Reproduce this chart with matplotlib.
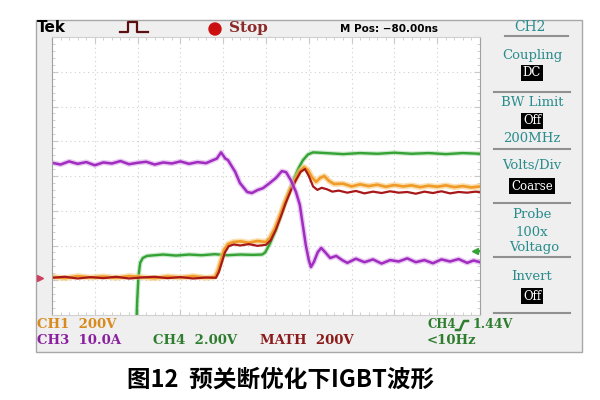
import matplotlib.pyplot as plt
from matplotlib.patches import Rectangle, Circle

plt.rcParams['font.family'] = ['DejaVu Sans']

# --- trace data (x in horizontal divisions 0..10, y in vertical divisions 0..8) ---
ch3_t = [0, 0.2, 0.4, 0.6, 0.8, 1.0, 1.2, 1.4, 1.6, 1.8, 2.0, 2.2, 2.4, 2.6, 2.8, 3.0,
         3.2, 3.4, 3.6, 3.75, 3.85, 3.95, 4.05, 4.11, 4.28, 4.39, 4.56, 4.67, 4.81, 4.93,
         5.09, 5.23, 5.37, 5.47, 5.58, 5.70, 5.79, 5.86, 5.93, 6.00, 6.05, 6.12, 6.21,
         6.29, 6.38, 6.50, 6.64, 6.78, 6.9, 7.1, 7.3, 7.5, 7.7, 7.9, 8.1, 8.3, 8.5, 8.7,
         8.9, 9.1, 9.3, 9.5, 9.7, 9.85, 10.0]
ch3_v = [4.38, 4.33, 4.42, 4.35, 4.40, 4.31, 4.39, 4.36, 4.43, 4.34, 4.38, 4.41, 4.33, 4.39,
         4.36, 4.42, 4.35, 4.40, 4.37, 4.45, 4.50, 4.68, 4.50, 4.46, 4.12, 3.80, 3.54, 3.51,
         3.60, 3.65, 3.80, 3.94, 4.14, 4.11, 3.88, 3.54, 3.17, 2.59, 2.01, 1.58, 1.38, 1.53,
         1.81, 1.93, 1.81, 1.64, 1.70, 1.58, 1.50, 1.62, 1.52, 1.60, 1.48, 1.58, 1.54, 1.63,
         1.52, 1.58, 1.49, 1.60, 1.54, 1.61, 1.50, 1.57, 1.52]

ch1_t = [0, 0.3, 0.6, 0.9, 1.2, 1.5, 1.8, 2.1, 2.4, 2.7, 3.0, 3.3, 3.6, 3.81, 3.88, 3.95,
         4.02, 4.11, 4.23, 4.4, 4.6, 4.8, 5.0, 5.09, 5.21, 5.33, 5.44, 5.56, 5.68, 5.79,
         5.89, 5.98, 6.07, 6.17, 6.26, 6.36, 6.47, 6.59, 6.8, 7.0, 7.2, 7.4, 7.6, 7.8, 8.0,
         8.2, 8.4, 8.6, 8.8, 9.0, 9.2, 9.4, 9.6, 9.8, 10.0]
ch1_v = [1.10, 1.06, 1.12, 1.08, 1.11, 1.07, 1.12, 1.09, 1.06, 1.11, 1.08, 1.12, 1.07, 1.10,
         1.29, 1.58, 1.87, 2.04, 2.10, 2.12, 2.08, 2.13, 2.10, 2.22, 2.50, 2.88, 3.25, 3.60,
         3.88, 4.14, 4.26, 4.17, 3.97, 3.83, 3.94, 4.00, 3.86, 3.77, 3.78, 3.70, 3.76, 3.71,
         3.75, 3.69, 3.74, 3.70, 3.73, 3.68, 3.72, 3.69, 3.73, 3.68, 3.71, 3.67, 3.70]

math_t = [0, 0.3, 0.6, 0.9, 1.2, 1.5, 1.8, 2.1, 2.4, 2.7, 3.0, 3.3, 3.6, 3.83, 3.90, 3.97,
          4.04, 4.13, 4.25, 4.4, 4.6, 4.8, 5.0, 5.11, 5.23, 5.35, 5.46, 5.58, 5.70, 5.81,
          5.91, 6.00, 6.10, 6.20, 6.30, 6.42, 6.55, 6.7, 6.9, 7.1, 7.3, 7.5, 7.7, 7.9, 8.1,
          8.3, 8.5, 8.7, 8.9, 9.1, 9.3, 9.5, 9.7, 9.9, 10.0]
math_v = [1.07, 1.10, 1.05, 1.09, 1.06, 1.10, 1.05, 1.08, 1.10, 1.06, 1.09, 1.05, 1.08, 1.07,
          1.24, 1.52, 1.80, 1.98, 2.03, 2.00, 2.04, 1.99, 2.02, 2.15, 2.45, 2.84, 3.22, 3.58,
          3.88, 4.12, 4.20, 4.00, 3.70, 3.60, 3.66, 3.62, 3.55, 3.58, 3.52, 3.57, 3.50, 3.55,
          3.51, 3.56, 3.52, 3.54, 3.49, 3.55, 3.51, 3.56, 3.50, 3.54, 3.52, 3.55, 3.53]

ch4_t = [1.97, 1.99, 2.02, 2.06, 2.12, 2.22, 2.4, 2.6, 2.9, 3.2, 3.5, 3.8, 4.1, 4.4, 4.7,
         4.91, 4.98, 5.09, 5.23, 5.37, 5.51, 5.63, 5.75, 5.86, 5.98, 6.10, 6.4, 6.8, 7.2,
         7.6, 8.0, 8.4, 8.8, 9.2, 9.6, 10.0]
ch4_v = [-0.3, 0.4, 1.1, 1.50, 1.64, 1.70, 1.72, 1.74, 1.71, 1.74, 1.72, 1.75, 1.72, 1.74,
         1.73, 1.74, 1.80, 2.05, 2.45, 2.95, 3.45, 3.85, 4.20, 4.45, 4.62, 4.68, 4.66, 4.63,
         4.66, 4.64, 4.67, 4.64, 4.66, 4.63, 4.66, 4.64]

menu_titles = ['Coupling', 'BW Limit', 'Volts/Div', 'Probe', 'Invert']
TEAL = '#2a8c8c'

fig = plt.figure(figsize=(6, 4), dpi=100)

# overlay for the instrument frame (pixel coordinates)
ov = fig.add_axes([0, 0, 1, 1])
ov.set_xlim(0, 600)
ov.set_ylim(400, 0)
ov.axis('off')
ov.add_patch(Rectangle((36, 20), 546, 332, facecolor='#efefef', edgecolor='#a8a8a8', lw=1))

# top status bar
ov.text(37, 28, 'Tek', fontsize=11, fontweight='bold', va='center', ha='left')
ov.plot([120, 128, 128, 137, 137, 148], [32, 32, 22, 22, 32, 32], color='#5a1010', lw=1.6)
ov.add_patch(Circle((215, 29), 6, color='#cc1010'))
ov.text(229, 28, 'Stop', fontsize=11, fontweight='bold', family='DejaVu Serif',
        color='#8b2a2a', va='center', ha='left')
ov.text(389, 29, 'M Pos: \u221280.00ns', fontsize=7.5, fontweight='bold', va='center', ha='center')
ov.text(530, 27, 'CH2', fontsize=10, family='DejaVu Serif', color=TEAL, va='center', ha='center')
ov.plot([505, 568], [36, 36], color='#909090', lw=1.5)
ov.plot([270, 270], [38, 43], color='black', lw=1.5)
ov.plot([270], [44], marker='v', color='black', ms=5)

# right menu
title_y = [55, 103, 166, 215, 277]
for t, y in zip(menu_titles, title_y):
    ov.text(532, y, t, fontsize=9.5, family='DejaVu Serif', color=TEAL, va='center', ha='center')
for y in [92, 149, 203, 257, 313]:
    ov.plot([494, 570], [y, y], color='#909090', lw=1.5)
box = dict(boxstyle='square,pad=0.15', facecolor='black', edgecolor='none')
for s, y in [('DC', 73), ('Off', 121), ('Coarse', 186), ('Off', 296)]:
    ov.text(532, y, s, fontsize=8.5, family='DejaVu Serif', color='white', va='center',
            ha='center', bbox=box)
ov.text(532, 139, '200MHz', fontsize=9.5, family='DejaVu Serif', color=TEAL, va='center', ha='center')
ov.text(532, 232, '100x', fontsize=9.5, family='DejaVu Serif', color=TEAL, va='center', ha='center')
ov.text(534, 248, 'Voltago', fontsize=9.5, family='DejaVu Serif', color=TEAL, va='center', ha='center')

# bottom readouts
lab = dict(fontsize=9.5, fontweight='bold', family='DejaVu Serif', va='center', ha='left')
ov.text(37, 325, 'CH1  200V', color='#d98a1c', **lab)
ov.text(37, 341, 'CH3  10.0A', color='#8a1fa0', **lab)
ov.text(153, 341, 'CH4  2.00V', color='#2e7d2e', **lab)
ov.text(260, 341, 'MATH  200V', color='#8b1a1a', **lab)
ov.text(427, 325, 'CH4', color='#2e7d2e', fontsize=8.5, fontweight='bold',
        family='DejaVu Serif', va='center', ha='left')
ov.plot([456, 460, 462, 464, 468], [330, 330, 325, 321, 321], color='#2e7d2e', lw=1.8)
ov.text(472, 325, '1.44V', color='#2e7d2e', fontsize=9, fontweight='bold',
        family='DejaVu Serif', va='center', ha='left')
ov.text(427, 341, '<10Hz', color='#2e7d2e', **lab)

# caption
ov.text(281, 380, '图12  预关断优化下IGBT波形', fontsize=17, fontweight='bold',
        family=['Noto Sans CJK SC', 'DejaVu Sans'], va='center', ha='center')

# --- scope screen ---
ax = fig.add_axes([52 / 600, (400 - 315) / 400, 428 / 600, 278 / 400])
ax.set_facecolor('white')
ax.set_xlim(0, 10)
ax.set_ylim(0, 8)
for x in range(1, 10):
    ax.axvline(x, color='#cfcfcf', lw=0.8, ls=(0, (1, 3)))
for y in range(1, 8):
    ax.axhline(y, color='#cfcfcf', lw=0.8, ls=(0, (1, 3)))
ax.set_xticks(range(11))
ax.set_yticks(range(9))
ax.set_xticks([i / 5 for i in range(51)], minor=True)
ax.set_yticks([i / 5 for i in range(41)], minor=True)
ax.tick_params(which='both', direction='in', colors='#c8c8c8', labelleft=False,
               labelbottom=False, top=True, right=True)
ax.tick_params(which='major', length=4)
ax.tick_params(which='minor', length=2)
for side in ['left', 'right']:
    ax.spines[side].set_color('#a0a0a0')
for side in ['top', 'bottom']:
    ax.spines[side].set_color('#d0d0d0')

ax.plot(ch4_t, ch4_v, color='#9ad49a', lw=3.4, alpha=0.5)
ax.plot(ch4_t, ch4_v, color='#34a234', lw=1.7)
ax.plot(ch1_t, ch1_v, color='#f8c878', lw=4.2, alpha=0.6)
ax.plot(ch1_t, ch1_v, color='#f09a28', lw=1.9)
ax.plot(math_t, math_v, color='#a81818', lw=1.6)
ax.plot(ch3_t, ch3_v, color='#dba6ea', lw=3.8, alpha=0.6)
ax.plot(ch3_t, ch3_v, color='#a02cc0', lw=1.8)

# channel markers
ax.plot([9.88], [1.84], marker='<', color='#34a234', ms=5, clip_on=False)
ax.plot([9.88, 10.0], [1.84, 1.84], color='#34a234', lw=1.5)
ov.plot([40], [278], marker='>', color='#d04060', ms=5)

fig.savefig('out.png', dpi=100)
